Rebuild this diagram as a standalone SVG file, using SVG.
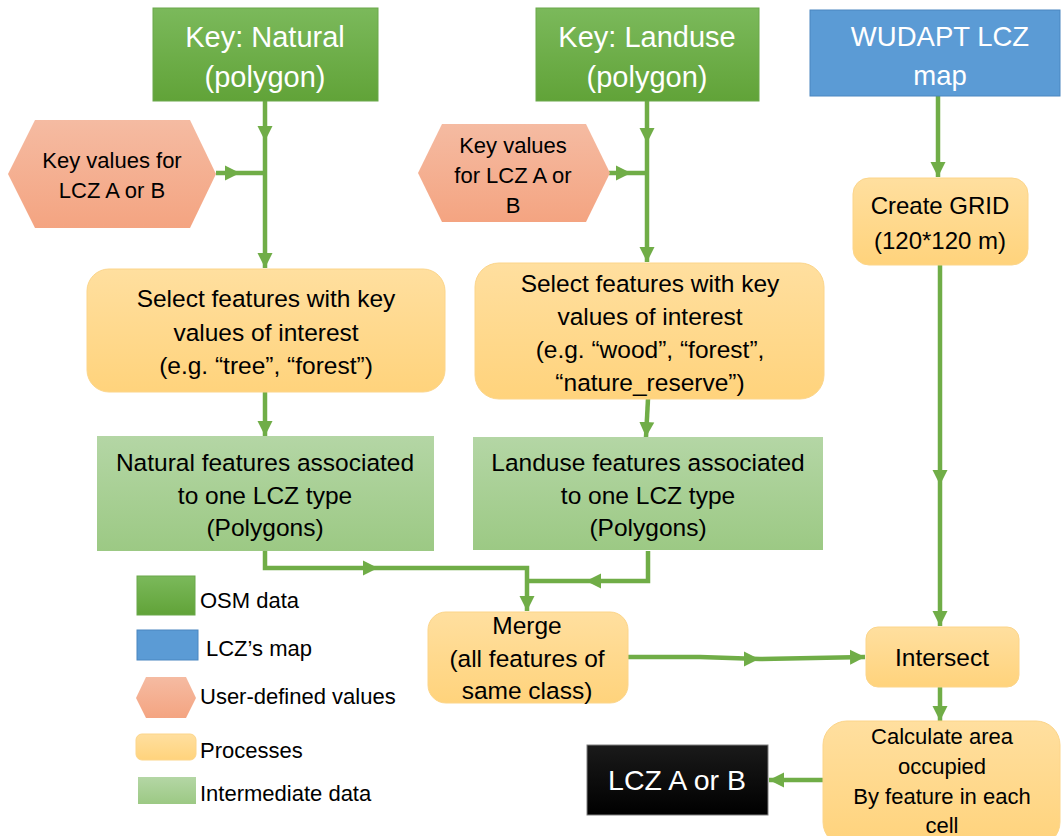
<svg xmlns="http://www.w3.org/2000/svg" width="1064" height="836" viewBox="0 0 1064 836">
<defs>
<linearGradient id="gOsm" x1="0" y1="0" x2="0" y2="1"><stop offset="0" stop-color="#7bb95b"/><stop offset="1" stop-color="#61a338"/></linearGradient>
<linearGradient id="gProc" x1="0" y1="0" x2="0" y2="1"><stop offset="0" stop-color="#ffdf9f"/><stop offset="1" stop-color="#ffd37c"/></linearGradient>
<linearGradient id="gHex" x1="0" y1="0" x2="0" y2="1"><stop offset="0" stop-color="#f5bba2"/><stop offset="1" stop-color="#f4a481"/></linearGradient>
<linearGradient id="gInt" x1="0" y1="0" x2="0" y2="1"><stop offset="0" stop-color="#b4d6a5"/><stop offset="1" stop-color="#9cc984"/></linearGradient>
<linearGradient id="gBlk" x1="0" y1="0" x2="0" y2="1"><stop offset="0" stop-color="#1a1a1a"/><stop offset="1" stop-color="#000"/></linearGradient>
<marker id="ah" markerUnits="userSpaceOnUse" markerWidth="16" markerHeight="16" refX="15" refY="8" orient="auto" viewBox="0 0 16 16"><path d="M0,0.5 L15,8 L0,15.5 z" fill="#70ad47"/></marker>
</defs>
<style>
.t{font-family:"Liberation Sans",Arial,sans-serif;text-anchor:middle;fill:#000}
.w{fill:#fff}
.l{font-family:"Liberation Sans",Arial,sans-serif;font-size:22px;fill:#000}
.osm{fill:url(#gOsm);stroke:#6aa84a;stroke-width:1}
.proc{fill:url(#gProc);stroke:#fcd58a;stroke-width:1}
.hex{fill:url(#gHex);stroke:none}
.int{fill:url(#gInt);stroke:none}
.c{fill:none;stroke:#70ad47;stroke-width:4.5}
.ce{fill:none;stroke:#70ad47;stroke-width:4.5;marker-end:url(#ah)}
.m{fill:none;stroke:none;marker-end:url(#ah)}
</style>
<rect width="1064" height="836" fill="#fff"/>

<g id="connectors">
<path class="ce" d="M265,101 L265,268"/>
<path class="m" d="M265,138 L265,141"/>
<path class="c" d="M216,173 L265,173"/>
<path class="m" d="M236,173 L240,173"/>
<path class="ce" d="M647,101 L647,262"/>
<path class="m" d="M647,140 L647,143"/>
<path class="c" d="M609,173 L647,173"/>
<path class="m" d="M627,173 L631,173"/>
<path class="ce" d="M265,392 L265,436"/>
<path class="ce" d="M648,399 L646,437"/>
<path class="ce" d="M265,551 L265,568 L527,568 L527,611"/>
<path class="m" d="M374,568 L378,568"/>
<path class="c" d="M648,551 L648,581 L527,581"/>
<path class="m" d="M590,581 L586,581"/>
<path class="ce" d="M628,657 L700,657 L760,659 L865,657"/>
<path class="m" d="M754,659 L759,659"/>
<path class="ce" d="M938,96 L938,177"/>
<path class="ce" d="M940,265 L940,626"/>
<path class="m" d="M940,481 L940,485"/>
<path class="ce" d="M940,687 L940,721"/>
<path class="ce" d="M823,780 L769,780"/>
</g>

<g id="key-natural">
<rect class="osm" x="153" y="8" width="225" height="93"/>
<text class="t w" x="265" y="47" font-size="29">Key: Natural</text>
<text class="t w" x="265" y="87" font-size="29">(polygon)</text>
</g>

<g id="key-landuse">
<rect class="osm" x="536" y="8" width="223" height="93"/>
<text class="t w" x="647" y="47" font-size="29">Key: Landuse</text>
<text class="t w" x="647" y="87" font-size="29">(polygon)</text>
</g>

<g id="wudapt">
<rect x="810" y="10" width="250" height="86" fill="#5b9bd5" stroke="#4a86c0" stroke-width="1"/>
<text class="t w" x="940" y="46" font-size="27.5">WUDAPT LCZ</text>
<text class="t w" x="940" y="85" font-size="27.5">map</text>
</g>

<g id="hex-natural">
<polygon class="hex" points="8,174 35,120 190,120 216,174 190,228 35,228"/>
<text class="t" x="112" y="168" font-size="22">Key values for</text>
<text class="t" x="112" y="198" font-size="22">LCZ A or B</text>
</g>

<g id="hex-landuse">
<polygon class="hex" points="418,173 442,124 586,124 610,173 586,222 442,222"/>
<text class="t" x="513" y="153" font-size="22">Key values</text>
<text class="t" x="513" y="183" font-size="22">for LCZ A or</text>
<text class="t" x="513" y="213" font-size="22">B</text>
</g>

<g id="select-natural">
<rect class="proc" x="87" y="269" width="358" height="123" rx="22"/>
<text class="t" x="266" y="307" font-size="24.5">Select features with key</text>
<text class="t" x="266" y="341" font-size="24.5">values of interest</text>
<text class="t" x="266" y="374" font-size="24.5">(e.g. “tree”, “forest”)</text>
</g>

<g id="select-landuse">
<rect class="proc" x="475" y="263" width="349" height="136" rx="24"/>
<text class="t" x="650" y="292" font-size="24.5">Select features with key</text>
<text class="t" x="650" y="325" font-size="24.5">values of interest</text>
<text class="t" x="650" y="358" font-size="24.5">(e.g. “wood”, “forest”,</text>
<text class="t" x="650" y="391" font-size="24.5">“nature_reserve”)</text>
</g>

<g id="natural-features">
<rect class="int" x="97" y="436" width="337" height="115"/>
<text class="t" x="265" y="471" font-size="24.5">Natural features associated</text>
<text class="t" x="265" y="504" font-size="24.5">to one LCZ type</text>
<text class="t" x="265" y="536" font-size="24.5">(Polygons)</text>
</g>

<g id="landuse-features">
<rect class="int" x="473" y="437" width="350" height="113"/>
<text class="t" x="648" y="471" font-size="24.5">Landuse features associated</text>
<text class="t" x="648" y="504" font-size="24.5">to one LCZ type</text>
<text class="t" x="648" y="536" font-size="24.5">(Polygons)</text>
</g>

<g id="create-grid">
<rect class="proc" x="853" y="178" width="175" height="87" rx="16"/>
<text class="t" x="940" y="214" font-size="24">Create GRID</text>
<text class="t" x="940" y="249" font-size="24">(120*120 m)</text>
</g>

<g id="merge">
<rect class="proc" x="428" y="612" width="200" height="91" rx="18"/>
<text class="t" x="527" y="634" font-size="24.5">Merge</text>
<text class="t" x="527" y="667" font-size="24.5">(all features of</text>
<text class="t" x="527" y="699" font-size="24.5">same class)</text>
</g>

<g id="intersect">
<rect class="proc" x="866" y="627" width="153" height="60" rx="12"/>
<text class="t" x="942" y="666" font-size="24.5">Intersect</text>
</g>

<g id="calculate">
<rect class="proc" x="823" y="721" width="237" height="125" rx="24"/>
<text class="t" x="942" y="744" font-size="22">Calculate area</text>
<text class="t" x="942" y="774" font-size="22">occupied</text>
<text class="t" x="942" y="804" font-size="22">By feature in each</text>
<text class="t" x="942" y="833" font-size="22">cell</text>
</g>

<g id="lcz-result">
<rect x="587" y="745" width="181" height="70" fill="url(#gBlk)" stroke="#7f7f7f" stroke-width="1"/>
<text class="t w" x="677" y="790" font-size="28.5">LCZ A or B</text>
</g>

<g id="legend">
<rect class="osm" x="137" y="576" width="58" height="39"/>
<text class="l" x="200" y="608">OSM data</text>
<rect x="137" y="630" width="61" height="30" fill="#5b9bd5" stroke="#4a86c0" stroke-width="1"/>
<text class="l" x="206" y="656">LCZ’s map</text>
<polygon class="hex" points="136,698 146,677 186,677 196,698 186,718 146,718"/>
<text class="l" x="200" y="704">User-defined values</text>
<rect class="proc" x="136" y="734" width="60" height="26" rx="6"/>
<text class="l" x="200" y="758">Processes</text>
<rect class="int" x="138" y="777" width="58" height="27"/>
<text class="l" x="200" y="801">Intermediate data</text>
</g>
</svg>
